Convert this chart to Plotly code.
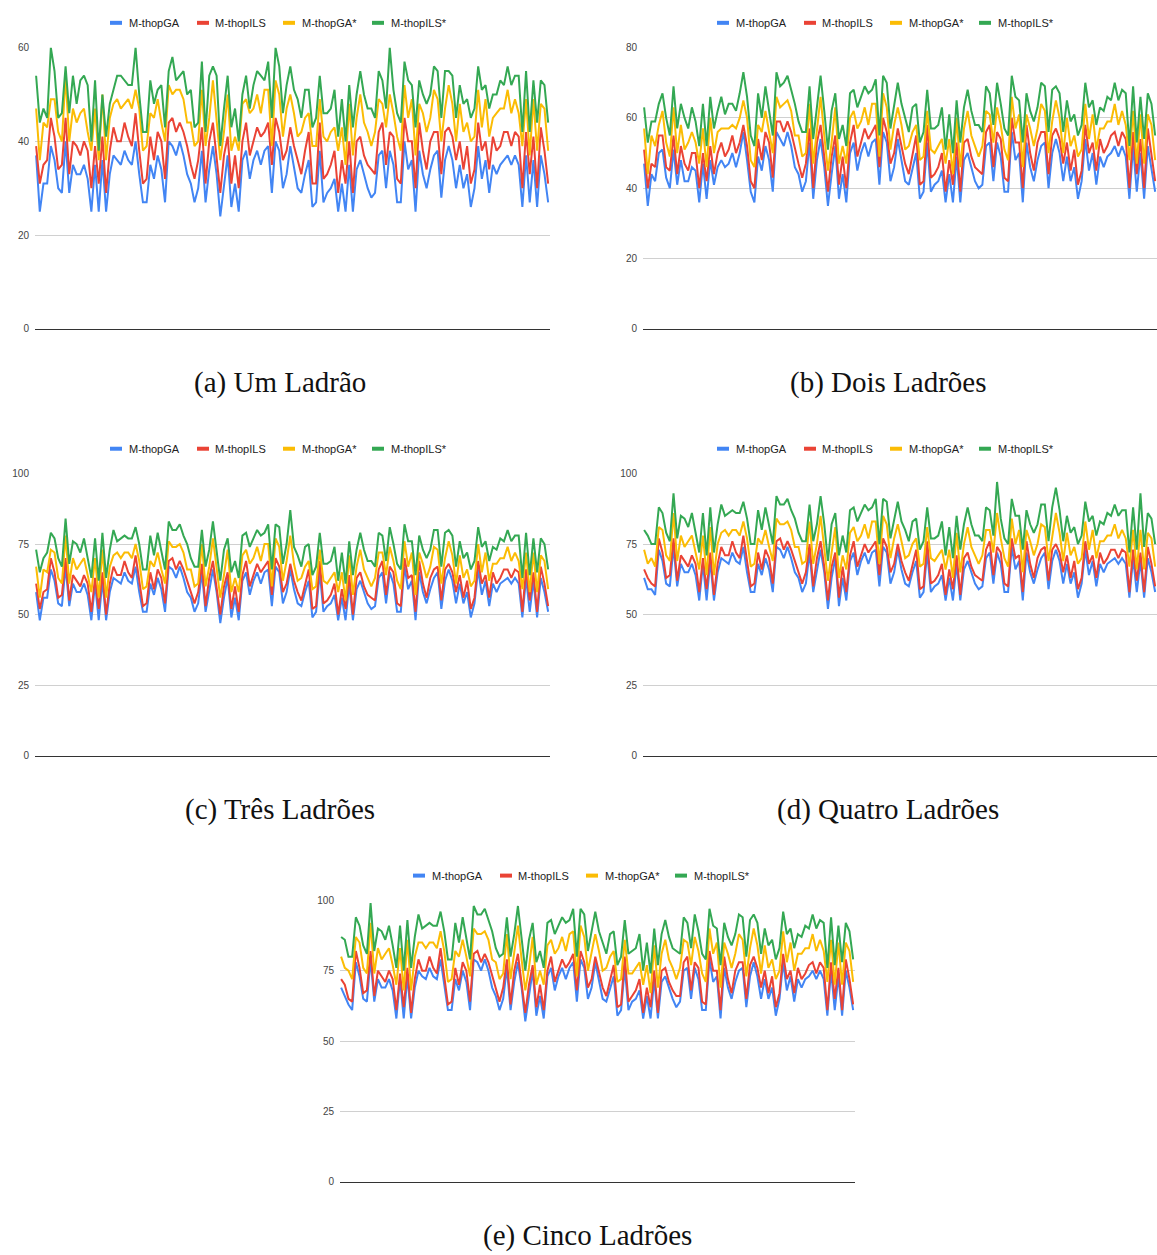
import plotly.graph_objects as go

W, H = 1157, 1255

series_names = ["M-thopGA", "M-thopILS", "M-thopGA*", "M-thopILS*"]
captions = ["(a) Um Ladrão", "(b) Dois Ladrões", "(c) Três Ladrões",
            "(d) Quatro Ladrões", "(e) Cinco Ladrões"]

# ---------------- (a) Um Ladrão ----------------
a_ga = [37,25,31,31,39,36,30,29,40,29,35,33,33,35,32,25,35,25,36,25,
        33,37,36,35,38,36,35,40,33,27,27,35,32,37,34,27,40,39,37,40,
        37,33,31,27,30,38,27,34,39,33,24,31,37,26,31,25,36,38,32,36,
        38,35,38,39,29,40,38,30,33,39,34,30,29,33,36,26,27,38,27,29,
        30,32,25,31,25,35,25,34,36,33,30,28,29,37,38,30,38,35,27,27,
        40,34,36,25,38,33,30,34,37,38,28,36,39,36,30,35,30,33,26,30,
        39,32,36,29,35,33,35,36,37,35,37,35,26,37,27,36,26,37,33,27]
a_ils = [39,31,35,36,45,41,34,35,45,33,40,39,37,40,38,30,39,31,41,29,
         38,43,40,40,44,41,39,46,38,31,32,41,36,42,40,32,44,45,42,44,
         42,39,35,32,36,43,31,40,44,37,29,37,41,31,37,30,40,44,37,40,
         43,41,42,44,35,45,42,36,38,43,39,36,33,38,42,31,31,44,32,33,
         35,38,29,36,31,40,29,40,41,37,35,34,33,42,44,35,42,41,32,31,
         45,40,40,30,44,38,34,40,42,42,33,42,43,41,36,40,34,39,31,34,
         44,38,40,34,41,38,39,42,42,39,42,41,30,42,33,41,30,43,38,31]
a_ga_star = [47,36,44,43,49,49,42,40,54,40,47,44,46,47,42,38,47,36,50,36,
             45,48,49,47,48,49,47,51,47,38,39,46,45,49,44,40,52,50,51,51,
             49,44,44,39,40,51,39,45,53,44,36,42,50,38,41,38,48,49,46,47,
             50,46,51,51,39,53,50,41,47,50,46,41,42,45,46,39,39,49,41,40,
             42,43,38,43,35,48,37,45,50,44,42,39,42,49,48,43,50,46,41,38,
             52,45,49,37,48,46,42,45,51,49,40,47,52,48,40,48,42,44,40,41,
             51,43,49,41,45,46,47,47,51,46,49,46,39,49,37,49,38,48,47,38]
a_ils_star = [54,44,47,45,60,55,45,46,56,46,54,48,53,54,52,40,53,38,50,41,
              48,51,54,54,53,52,52,60,50,42,42,53,48,51,52,43,55,58,53,54,
              55,50,51,43,44,57,42,54,56,54,39,47,54,43,47,40,50,54,47,52,
              55,54,53,57,45,60,56,46,52,56,51,49,45,51,51,43,45,54,46,46,
              47,51,41,49,40,52,43,50,55,50,47,47,45,55,53,47,60,51,46,44,
              57,53,52,43,53,50,48,50,56,55,45,55,55,54,45,52,48,49,45,47,
              56,51,52,47,50,50,53,52,56,52,54,54,42,55,42,53,44,53,52,44]

# ---------------- (b) Dois Ladrões ----------------
b_ga = [47,35,44,42,50,51,43,40,51,41,48,42,42,46,45,36,47,37,48,41,
        46,48,46,47,50,46,50,56,48,39,36,49,45,52,48,39,56,54,52,56,
        52,46,44,39,42,53,37,48,54,46,35,44,52,37,44,36,50,53,45,50,
        53,49,53,54,41,56,53,42,46,54,48,42,41,46,50,37,39,53,39,41,
        42,45,36,44,36,49,36,48,50,46,42,40,41,52,53,42,53,49,39,39,
        56,48,50,36,53,46,42,48,52,53,40,50,54,50,42,49,42,46,37,42,
        54,45,50,41,49,46,49,50,52,49,52,49,37,52,39,50,37,52,46,39]
b_ils = [51,40,47,46,55,55,46,45,55,44,52,47,45,50,50,40,50,42,52,44,
         50,53,49,51,55,50,53,58,52,42,40,54,48,56,53,43,59,59,56,59,
         56,51,47,43,47,57,40,53,58,49,39,49,55,41,49,40,53,58,49,53,
         57,54,56,58,46,60,56,47,50,57,52,47,44,50,55,41,42,58,43,44,
         46,50,39,48,41,53,39,53,54,49,46,45,44,56,58,46,56,54,43,42,
         60,53,53,40,58,50,45,53,56,56,44,55,57,54,47,53,45,51,41,45,
         58,50,53,45,54,50,52,55,56,52,56,54,40,56,44,54,40,57,50,42]
b_ga_star = [57,44,55,52,58,62,53,49,63,50,58,51,53,56,53,47,57,46,60,50,
             56,57,57,57,58,57,60,65,60,48,46,58,56,62,56,50,66,63,64,65,
             62,55,55,49,50,64,47,57,66,55,45,53,63,47,52,47,60,62,57,59,
             63,58,64,64,49,67,63,51,58,63,58,51,52,56,58,48,49,62,51,50,
             52,54,47,54,44,60,46,57,62,55,52,49,52,62,61,53,63,58,51,48,
             66,57,61,46,61,57,52,57,64,62,50,59,65,60,50,60,52,55,49,51,
             64,54,61,51,57,57,59,59,64,58,62,58,48,62,47,61,47,61,58,48]
b_ils_star = [63,53,59,59,64,67,60,55,69,57,64,60,57,63,59,52,64,52,66,57,
              62,66,61,64,64,62,67,73,66,55,52,67,60,69,62,55,73,69,70,72,
              68,64,59,56,56,69,54,63,72,62,51,62,67,54,58,52,67,68,63,66,
              69,67,68,71,55,72,70,57,64,70,64,60,56,63,64,53,56,68,57,57,
              58,63,51,61,50,65,53,63,68,62,58,58,56,69,67,58,70,64,57,55,
              72,66,65,53,67,62,59,63,70,69,56,68,69,67,56,65,59,61,55,58,
              70,63,65,58,63,62,66,65,70,65,68,67,52,69,53,66,54,67,64,55]

# ---------------- (c) Três Ladrões ----------------
c_ga = [58,48,56,56,66,62,54,53,67,53,61,58,58,61,57,48,61,48,62,48,
        58,63,62,61,65,62,61,67,58,51,51,61,57,63,59,51,67,66,63,67,
        63,58,56,51,54,65,51,59,66,58,47,56,63,49,56,48,62,65,57,62,
        65,61,65,66,53,67,65,54,58,66,59,54,53,58,62,49,51,65,51,53,
        54,57,48,56,48,61,48,59,62,58,54,52,53,63,65,54,65,61,51,51,
        67,59,62,48,65,58,54,59,63,65,52,62,66,62,54,61,54,58,49,54,
        66,57,62,53,61,58,61,62,63,61,63,61,49,63,51,62,49,63,58,51]
c_ils = [61,52,58,59,70,65,56,57,70,55,64,62,60,64,61,51,63,52,65,50,
         61,67,64,64,69,65,63,71,61,53,54,65,59,66,63,54,69,70,66,69,
         66,62,58,54,58,68,53,63,69,60,50,60,65,52,60,51,64,69,60,64,
         68,65,67,69,57,70,67,58,61,68,62,58,55,61,66,52,53,69,54,55,
         57,61,50,59,52,64,50,63,65,60,57,56,55,66,69,57,67,65,54,53,
         70,63,64,51,69,61,56,63,66,67,55,66,68,65,58,64,56,62,52,56,
         69,61,64,56,65,61,63,66,66,63,66,65,51,66,55,65,51,67,61,53]
c_ga_star = [67,56,66,65,73,72,63,61,78,61,70,66,68,70,64,58,70,56,73,56,
             67,71,72,70,72,72,70,75,69,59,60,69,67,72,66,61,76,74,74,75,
             72,66,66,60,61,75,60,67,77,66,56,64,73,58,63,58,71,73,68,70,
             74,69,75,75,60,77,74,62,69,78,68,62,63,67,69,59,60,73,62,61,
             63,65,58,65,55,71,57,67,73,66,63,60,63,72,72,64,74,69,62,59,
             76,67,72,57,72,68,63,67,74,73,61,70,76,71,61,71,63,66,60,62,
             75,65,72,62,68,68,70,70,74,69,72,69,59,72,58,72,58,71,69,59]
c_ils_star = [73,65,70,72,79,77,70,67,84,68,76,75,72,77,70,63,77,62,79,63,
              73,80,76,77,78,77,77,81,75,66,66,78,71,79,72,66,83,80,80,82,
              78,75,70,67,67,80,67,73,83,73,62,73,77,65,69,63,78,79,74,77,
              80,78,79,82,66,82,81,68,75,87,74,71,67,74,75,64,67,79,68,68,
              69,74,62,72,61,76,64,73,79,73,69,69,67,79,78,69,81,75,68,66,
              82,76,76,64,78,73,70,73,80,80,67,79,80,78,67,76,70,72,66,69,
              81,74,76,69,74,73,77,76,80,76,78,78,63,79,64,77,65,77,75,66]

# ---------------- (d) Quatro Ladrões ----------------
d_ga = [63,59,59,57,73,69,61,60,74,60,68,65,65,68,64,55,68,55,69,55,
        65,70,69,68,72,69,68,74,65,58,58,68,64,70,66,58,74,73,70,74,
        70,65,63,58,61,72,58,66,73,65,52,63,70,53,63,55,69,72,64,69,
        72,68,72,73,60,74,72,61,65,73,66,61,60,65,69,56,58,72,58,60,
        61,64,55,63,55,68,55,66,69,65,61,59,60,70,72,61,72,68,58,58,
        74,66,69,55,72,65,61,66,70,72,59,69,73,69,61,68,61,65,56,61,
        73,64,69,60,68,65,68,69,70,68,70,68,56,70,58,69,56,70,65,58]
d_ils = [66,63,61,60,77,72,63,64,77,62,71,69,67,71,68,58,70,59,72,57,
         68,74,71,71,76,72,70,78,68,60,61,72,66,73,70,61,76,77,73,76,
         73,69,65,61,65,75,60,70,76,67,55,67,72,56,67,58,71,76,67,71,
         75,72,74,76,64,77,74,65,68,75,69,65,62,68,73,59,60,76,61,62,
         64,68,57,66,59,71,57,70,72,67,64,63,62,73,76,64,74,72,61,60,
         77,70,71,58,76,68,63,70,73,74,62,73,75,72,65,71,63,69,59,63,
         76,68,71,63,72,68,70,73,73,70,73,72,58,73,62,72,58,74,68,60]
d_ga_star = [73,68,70,67,81,80,71,69,86,69,78,74,76,78,72,66,78,64,81,64,
             75,79,80,78,80,80,78,83,77,67,68,77,75,80,74,69,84,82,82,83,
             80,74,74,68,69,83,68,75,85,74,62,72,81,63,71,66,79,81,76,78,
             82,77,83,83,68,85,82,70,77,82,76,70,71,75,77,67,68,81,70,69,
             71,73,66,73,63,79,65,75,81,74,71,68,71,80,80,72,86,77,70,67,
             84,75,80,65,80,76,71,75,82,81,69,78,86,79,69,79,71,74,68,70,
             83,73,80,70,76,76,78,78,82,77,80,77,67,80,66,80,66,79,77,67]
d_ils_star = [80,78,75,75,88,86,79,76,93,77,85,84,81,86,79,72,86,71,88,72,
              82,89,85,86,87,86,86,90,84,75,75,87,80,88,81,75,92,89,89,91,
              87,84,79,76,76,89,76,82,92,82,69,82,86,71,78,72,87,88,83,86,
              89,87,88,91,75,91,90,77,84,90,83,80,76,83,84,73,76,88,77,77,
              78,83,71,81,70,85,73,82,88,82,78,78,76,88,87,78,97,84,77,75,
              91,85,85,73,87,82,79,82,89,89,76,88,95,87,76,85,79,81,75,78,
              90,83,85,78,83,82,86,85,89,85,87,87,72,88,73,93,74,86,84,75]

# ---------------- (e) Cinco Ladrões ----------------
e_ga = [69,66,63,61,78,73,65,64,79,64,72,69,69,72,68,58,72,58,73,58,
        69,75,73,72,76,73,72,79,69,61,61,72,68,75,71,61,79,78,75,79,
        75,69,66,61,65,76,61,71,78,69,57,66,75,59,66,58,73,76,68,73,
        76,72,76,78,64,79,76,65,69,78,71,65,64,69,73,59,61,76,61,64,
        65,68,58,66,58,72,58,71,73,69,65,62,64,75,76,65,76,72,61,61,
        79,71,73,58,76,69,65,71,75,76,62,73,78,73,65,72,65,69,59,65,
        78,68,73,64,72,69,72,73,75,72,75,72,59,75,61,73,59,75,69,61]
e_ils = [72,70,65,64,82,76,67,68,82,66,75,73,71,75,72,61,74,62,76,60,
         72,79,75,75,80,76,74,83,72,63,64,76,70,78,75,64,81,82,78,81,
         78,73,68,64,69,79,63,75,81,71,60,70,77,62,70,61,75,80,71,75,
         79,76,78,81,68,82,78,69,72,80,74,69,66,72,77,62,63,80,64,66,
         68,72,60,69,62,75,60,75,76,71,68,66,66,78,80,68,78,76,64,63,
         82,75,75,61,80,72,67,75,78,78,65,77,80,76,69,75,67,73,62,67,
         81,72,75,67,76,72,74,77,78,74,78,76,61,78,65,76,61,79,72,63]
e_ga_star = [80,76,75,72,87,85,76,74,92,74,83,79,81,83,77,70,83,68,86,68,
             80,85,85,83,85,85,83,89,82,71,72,82,80,86,80,73,90,88,88,89,
             86,79,78,72,74,88,72,81,91,79,68,76,87,70,75,70,84,86,81,83,
             87,82,88,89,73,91,87,75,82,88,82,75,76,80,82,71,72,86,74,74,
             76,78,70,77,67,84,69,81,86,79,76,72,76,86,85,77,87,82,74,71,
             90,81,85,69,85,81,76,81,88,86,73,83,90,84,74,84,76,79,72,75,
             89,78,85,75,81,81,83,83,88,82,86,82,71,86,70,85,70,85,82,71]
e_ils_star = [87,86,80,80,94,91,84,81,99,82,90,89,86,91,84,76,91,75,93,76,
              87,95,90,91,92,91,91,96,89,79,79,92,85,94,87,79,98,95,95,97,
              93,89,83,80,81,94,80,88,98,87,75,86,92,78,82,76,92,93,88,91,
              94,92,93,97,80,97,95,82,89,96,89,85,81,88,89,77,80,93,81,82,
              83,88,75,85,74,90,77,88,93,87,83,82,81,94,92,83,95,89,81,79,
              97,91,90,77,92,87,84,88,95,94,80,93,95,92,81,90,84,86,79,83,
              96,88,90,83,88,87,91,90,95,90,93,92,76,94,77,91,78,92,89,79]

# y-axis ticks of each panel
a_ticks = [0, 20, 40, 60]
b_ticks = [0, 20, 40, 60, 80]
c_ticks = [0, 25, 50, 75, 100]
d_ticks = [0, 25, 50, 75, 100]
e_ticks = [0, 25, 50, 75, 100]

panel_data = [
    ([a_ga, a_ils, a_ga_star, a_ils_star], a_ticks),
    ([b_ga, b_ils, b_ga_star, b_ils_star], b_ticks),
    ([c_ga, c_ils, c_ga_star, c_ils_star], c_ticks),
    ([d_ga, d_ils, d_ga_star, d_ils_star], d_ticks),
    ([e_ga, e_ils, e_ga_star, e_ils_star], e_ticks),
]

# ---------------- layout (pixel boxes) ----------------
colors = ["#4285F4", "#EA4335", "#FBBC04", "#34A853"]
boxes = [  # x0, x1, ytop, ybottom, legend-left, legend-y, caption-x, caption-y
    (35, 550, 42, 326, 110, 17, 280, 380),
    (643, 1157, 42, 326, 717, 17, 888, 380),
    (35, 550, 472, 757, 110, 447, 280, 811),
    (643, 1157, 472, 757, 717, 447, 888, 811),
    (340, 855, 903, 1187, 413, 878, 587, 1241),
]
leg_marker_off = [0, 87, 173, 262]
leg_text_off = [18, 104, 191, 280]

def px(x):
    return x / W

def py(y):
    return 1 - y / H

fig = go.Figure()
layout = dict(width=W, height=H, margin=dict(l=0, r=0, t=0, b=0),
              paper_bgcolor="white", plot_bgcolor="white", showlegend=False,
              font=dict(family="Liberation Sans, Arial, sans-serif", color="#444"))
shapes, annotations = [], []

for p, ((series, ticks), box) in enumerate(zip(panel_data, boxes)):
    x0, x1, yt, yb, lx, ly, cx, cy = box
    k = "" if p == 0 else str(p + 1)
    n = len(series[0])
    for s, (vals, name, col) in enumerate(zip(series, series_names, colors)):
        fig.add_trace(go.Scatter(x=list(range(n)), y=vals, mode="lines", name=name,
                                 line=dict(color=col, width=2),
                                 xaxis="x" + k, yaxis="y" + k, showlegend=False,
                                 hoverinfo="skip"))
    layout["xaxis" + k] = dict(domain=[px(x0), px(x1)], anchor="y" + k,
                               range=[-0.3, n - 1 + 0.5], showgrid=False,
                               zeroline=False, showticklabels=False, ticks="",
                               showline=True, linecolor="#333", linewidth=1)
    layout["yaxis" + k] = dict(domain=[py(yb), py(yt)], anchor="x" + k,
                               range=[0, ticks[-1]], tickvals=ticks,
                               showgrid=True, gridcolor="#d0d0d0", gridwidth=1,
                               zeroline=False, showline=False, ticks="",
                               ticklabelstandoff=5,
                               tickfont=dict(size=10, color="#444"))
    # legend
    for s in range(4):
        mx = lx + leg_marker_off[s]
        shapes.append(dict(type="line", xref="paper", yref="paper",
                           x0=px(mx), x1=px(mx + 12), y0=py(ly), y1=py(ly),
                           line=dict(color=colors[s], width=4)))
        annotations.append(dict(x=px(lx + leg_text_off[s]), y=py(ly), xref="paper",
                                yref="paper", text=series_names[s], showarrow=False,
                                xanchor="left", yanchor="middle",
                                font=dict(size=11, color="#222"), borderpad=0))
    annotations.append(dict(x=px(cx), y=py(cy), xref="paper", yref="paper",
                            text=captions[p], showarrow=False, xanchor="center",
                            yanchor="middle",
                            font=dict(family="Liberation Serif, serif", size=29,
                                      color="#111")))

layout["shapes"] = shapes
layout["annotations"] = annotations
fig.update_layout(**layout)
fig.write_html("out.html")
